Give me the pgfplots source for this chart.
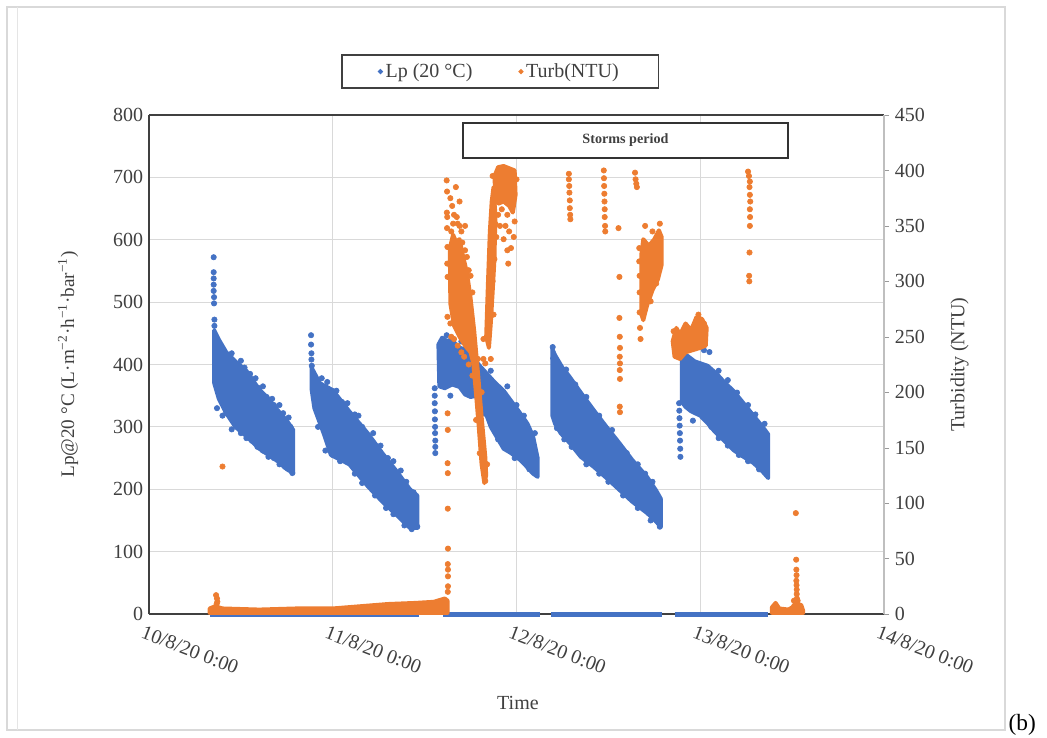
\documentclass[border=0pt]{standalone}
\usepackage{fontspec}
\setmainfont{Liberation Serif}
\usepackage{pgfplots}
\pgfplotsset{compat=1.18}
\definecolor{lpblue}{RGB}{68,114,196}
\definecolor{turb}{RGB}{237,125,49}
\definecolor{gridc}{RGB}{217,217,217}
\definecolor{txt}{RGB}{64,64,64}
\pgfplotsset{
  band/.style={line width=2.4pt, line join=round, forget plot},
  pts/.style={only marks, mark=*, mark size=1.6pt, forget plot},
}
\begin{document}
\begin{tikzpicture}
\path[use as bounding box] (0pt,0pt) rectangle (628.2pt,-442.2pt);
\draw[black!15, line width=0.9pt] (4.2pt,-4.2pt) rectangle (603pt,-438pt);
\draw[black!10, line width=0.6pt] (10.2pt,-4.2pt) -- (10.2pt,-438pt);
\node[anchor=base west, inner sep=0pt, font=\fontsize{14}{16}\selectfont] at (605pt,-438.5pt) {(b)};

\begin{axis}[
  at={(89.4pt,-368.4pt)}, anchor=south west,
  scale only axis, width=441pt, height=299.4pt,
  xmin=0, xmax=4, ymin=0, ymax=800,
  xtick={0,1,2,3,4},
  xticklabels={10/8/20 0:00,11/8/20 0:00,12/8/20 0:00,13/8/20 0:00,14/8/20 0:00},
  ytick={0,100,...,800},
  grid=major, major grid style={gridc, line width=0.6pt},
  axis x line*=box, axis y line*=left,
  axis line style={-, black!75, line width=0.7pt},
  tick style={draw=none},
  clip=false,
  /pgf/number format/assume math mode=true,
  ticklabel style={font=\fontsize{12}{14}\selectfont, text=txt},
  x tick label style={rotate=-21, anchor=north west, inner sep=0pt, yshift=-7pt},
  xlabel={Time},
  xlabel style={at={(axis description cs:0.502,-0.178)}, anchor=center, font=\fontsize{12}{14}\selectfont, text=txt},
  ylabel={Lp@20 °C (L·m\textsuperscript{−2}·h\textsuperscript{−1}·bar\textsuperscript{−1})},
  ylabel style={at={(axis description cs:-0.110,0.5)}, anchor=center, font=\fontsize{11.5}{14}\selectfont, text=txt},
]
% ---- Lp at zero
\addplot[lpblue, line width=3pt, forget plot] coordinates {(0.33,0) (1.47,0)};
\addplot[lpblue, line width=3pt, forget plot] coordinates {(1.60,0) (2.13,0)};
\addplot[lpblue, line width=3pt, forget plot] coordinates {(2.19,0) (2.79,0)};
\addplot[lpblue, line width=3pt, forget plot] coordinates {(2.86,0) (3.37,0)};
% ---- cluster 1
\addplot[band, draw=lpblue, fill=lpblue] coordinates {
(0.355,455) (0.38,440) (0.42,420) (0.47,405) (0.53,390) (0.60,360) (0.65,345) (0.70,327) (0.75,310) (0.785,295)
(0.785,226) (0.75,232) (0.70,245) (0.60,265) (0.53,285) (0.47,300) (0.42,322) (0.38,345) (0.355,370)} -- cycle;
\addplot[pts, lpblue] coordinates {
(0.352,572) (0.352,548) (0.352,538) (0.352,528) (0.352,518) (0.354,508) (0.354,498) (0.356,472) (0.356,462)
(0.40,425) (0.43,412) (0.45,418) (0.48,400) (0.50,406) (0.52,395) (0.55,385) (0.56,375) (0.58,378) (0.60,362) (0.62,365) (0.64,348) (0.67,345) (0.71,335) (0.73,322) (0.76,315)
(0.37,330) (0.40,318) (0.45,296) (0.48,300) (0.50,290) (0.53,282) (0.56,278) (0.59,268) (0.62,262) (0.65,252) (0.68,250) (0.71,240) (0.74,236) (0.78,226) (0.77,300) (0.72,320) (0.68,335) (0.42,322)};
% ---- cluster 2
\addplot[band, draw=lpblue, fill=lpblue] coordinates {
(0.885,395) (0.93,370) (1.0,359) (1.09,325) (1.19,290) (1.27,258) (1.35,228) (1.42,200) (1.46,190)
(1.46,138) (1.42,138) (1.35,158) (1.27,180) (1.19,205) (1.09,240) (0.99,255) (0.95,290) (0.90,330) (0.885,360)} -- cycle;
\addplot[pts, lpblue] coordinates {
(0.882,447) (0.882,432) (0.884,418) (0.884,408) (0.886,398)
(0.94,378) (0.97,372) (1.02,358) (1.00,255) (1.05,340) (1.08,338) (1.12,320) (1.14,318) (1.16,300) (1.22,290) (1.26,270) (1.30,250) (1.33,245) (1.37,230) (1.40,212) (1.44,195)
(1.46,140) (1.43,136) (1.39,142) (1.33,160) (1.29,170) (1.23,190) (1.16,210) (1.12,225) (1.04,245) (0.96,262) (0.92,300)};
% ---- cluster 3 (storm)
\addplot[pts, lpblue] coordinates {
(1.555,362) (1.555,350) (1.555,338) (1.556,325) (1.556,312) (1.557,300) (1.557,290) (1.558,278) (1.558,268) (1.558,258)
(1.62,447) (1.70,437) (1.64,350) (1.95,365) (2.00,335) (2.10,290) (1.90,280) (1.86,390) (2.04,318) (2.07,232) (1.99,250) (1.82,322)};
\addplot[band, draw=lpblue, fill=lpblue] coordinates {
(1.575,432) (1.595,443) (1.62,438) (1.65,440) (1.68,428) (1.71,425) (1.74,418) (1.775,412)
(1.785,350) (1.75,348) (1.72,352) (1.69,364) (1.65,368) (1.61,362) (1.58,365)} -- cycle;
\addplot[band, draw=lpblue, fill=lpblue] coordinates {
(1.78,405) (1.80,398) (1.84,385) (1.88,372) (1.93,358) (1.98,338) (2.02,322) (2.06,305) (2.09,285) (2.115,250)
(2.115,220) (2.09,225) (2.05,238) (2.02,247) (1.97,258) (1.93,265) (1.89,285) (1.86,300) (1.84,316) (1.80,335) (1.785,345)} -- cycle;
% ---- cluster 4
\addplot[band, draw=lpblue, fill=lpblue] coordinates {
(2.195,425) (2.21,415) (2.25,395) (2.29,380) (2.35,355) (2.42,327) (2.49,300) (2.56,274) (2.63,247) (2.71,220) (2.76,198) (2.785,185)
(2.785,140) (2.76,148) (2.71,162) (2.63,180) (2.56,199) (2.49,218) (2.42,236) (2.35,252) (2.29,274) (2.24,290) (2.21,305) (2.195,318)} -- cycle;
\addplot[pts, lpblue] coordinates {
(2.197,428) (2.20,410) (2.27,392) (2.32,368) (2.38,348) (2.45,318) (2.52,295) (2.60,258) (2.66,240) (2.70,225) (2.74,212)
(2.78,140) (2.73,150) (2.66,170) (2.58,190) (2.50,212) (2.45,225) (2.38,240) (2.30,268) (2.26,280) (2.22,298)};
% ---- cluster 5
\addplot[pts, lpblue] coordinates {
(2.885,338) (2.886,326) (2.887,314) (2.888,302) (2.889,290) (2.890,278) (2.891,265) (2.892,252)
(3.02,423) (3.05,420) (3.10,390) (3.15,375) (3.20,355) (3.26,335) (3.30,320) (3.35,305)
(3.36,230) (3.32,232) (3.26,245) (3.21,255) (3.15,270) (3.10,282) (3.06,300) (2.96,310)};
\addplot[band, draw=lpblue, fill=lpblue] coordinates {
(2.90,410) (2.93,414) (2.97,405) (3.00,402) (3.04,398) (3.09,385) (3.13,372) (3.18,358) (3.23,340) (3.29,318) (3.34,300) (3.37,288)
(3.37,218) (3.34,228) (3.29,242) (3.23,253) (3.18,263) (3.13,278) (3.08,292) (3.04,306) (3.00,318) (2.95,325) (2.92,332) (2.90,340)} -- cycle;
\end{axis}

\begin{axis}[
  at={(89.4pt,-368.4pt)}, anchor=south west,
  scale only axis, width=441pt, height=299.4pt,
  xmin=0, xmax=4, ymin=0, ymax=450,
  axis x line=none, axis y line*=right,
  axis line style={-, black!25, line width=0.7pt},
  ytick={0,50,...,450},
  tick align=outside, major tick length=3pt, tick style={black!40},
  clip=false,
  /pgf/number format/assume math mode=true,
  ticklabel style={font=\fontsize{12}{14}\selectfont, text=txt},
  ylabel={Turbidity (NTU)},
  ylabel style={at={(axis description cs:1.103,0.5)}, anchor=center, font=\fontsize{12}{14}\selectfont, text=txt},
  legend style={at={(axis description cs:0.478,1.087)}, anchor=center, draw=black!75, line width=0.8pt,
    legend columns=2, font=\fontsize{12}{14}\selectfont, text=txt, inner xsep=22pt, inner ysep=3pt,
    /tikz/every even column/.append style={column sep=26pt}},
  legend image code/.code={\draw[#1] plot coordinates {(0.12cm,0cm)};},
]
\addlegendimage{only marks, mark=*, mark size=1.1pt, lpblue}
\addlegendentry{Lp (20 °C)}
\addlegendimage{only marks, mark=*, mark size=1.1pt, turb}
\addlegendentry{Turb(NTU)}
% ---- baseline turbidity
\addplot[band, draw=turb, fill=turb] coordinates {
(0.33,5) (0.36,7) (0.40,5) (0.6,4) (0.8,5) (1.0,5) (1.15,7) (1.3,9) (1.45,10) (1.55,11) (1.61,14) (1.625,12)
(1.625,1) (0.33,1)} -- cycle;
\addplot[pts, turb] coordinates {(0.365,17) (0.37,14) (0.372,11) (0.368,9) (0.40,133)};
% ---- storm: first column and cloud
\addplot[pts, turb] coordinates {
(1.620,391) (1.622,381) (1.621,362) (1.623,358) (1.622,348) (1.624,331) (1.623,316) (1.625,304) (1.624,268)
(1.625,181) (1.626,166) (1.625,136) (1.626,127) (1.626,95) (1.627,59) (1.626,45) (1.627,40) (1.627,34) (1.627,25) (1.626,20)
(1.64,375) (1.65,368) (1.66,360) (1.68,352) (1.70,345) (1.72,328) (1.74,310) (1.76,290) (1.66,248) (1.70,236) (1.74,225)
(1.78,175) (1.80,145) (1.83,120) (1.84,135) (1.81,200) (1.79,230) (1.67,385) (1.69,372) (1.72,350) (1.64,262) (1.75,305)
(1.645,345) (1.655,352) (1.675,358) (1.69,350) (1.705,335) (1.73,322) (1.645,250) (1.68,242) (1.715,232) (1.76,215)};
\addplot[band, draw=turb, fill=turb] coordinates {
(1.637,330) (1.655,342) (1.67,336) (1.69,338) (1.71,322) (1.73,308) (1.75,285) (1.77,255) (1.79,218) (1.81,178) (1.83,142) (1.835,125)
(1.825,118) (1.81,135) (1.795,168) (1.78,198) (1.765,226) (1.75,236) (1.72,242) (1.69,250) (1.66,260) (1.64,280)} -- cycle;
% ---- rising cloud
\addplot[band, draw=turb, fill=turb] coordinates {
(1.835,250) (1.845,300) (1.855,345) (1.865,372) (1.875,385) (1.885,360) (1.88,320) (1.87,290) (1.86,262) (1.85,240)} -- cycle;
\addplot[band, draw=turb, fill=turb] coordinates {
(1.88,395) (1.90,403) (1.93,404) (1.96,402) (1.99,400) (1.995,378) (1.98,362) (1.96,368) (1.93,372) (1.90,370) (1.885,375)} -- cycle;
\addplot[pts, turb] coordinates {
(1.82,248) (1.82,230) (1.83,226) (1.88,320) (1.89,340) (1.90,360) (1.92,365) (1.95,360) (1.96,345) (1.97,330) (1.955,316)
(1.99,354) (1.98,368) (2.00,392) (1.87,395) (1.885,352) (1.86,230) (1.94,350) (1.91,350) (1.93,338) (1.95,328) (1.985,340)
(1.92,380) (1.89,382) (1.87,300) (1.875,270) (1.845,262) (1.86,320)};
% ---- scattered columns
\addplot[pts, turb] coordinates {
(2.285,397) (2.285,392) (2.287,386) (2.288,380) (2.29,373) (2.29,366) (2.292,360) (2.293,356)
(2.475,400) (2.476,393) (2.477,386) (2.478,379) (2.479,372) (2.48,365) (2.48,358) (2.482,350) (2.483,345)
(2.555,348) (2.56,304) (2.56,267) (2.562,250) (2.563,240) (2.562,232) (2.563,226) (2.562,220) (2.563,212) (2.562,187) (2.563,182)
(2.645,398) (2.648,392) (2.652,388) (2.655,385)
(2.668,330) (2.668,318) (2.67,305) (2.67,290) (2.67,272) (2.672,258) (2.675,248)
(2.70,350) (2.74,345) (2.78,352) (2.76,298) (2.73,282)
(2.855,255) (2.99,270) (3.02,262)
(3.26,399) (3.265,395) (3.27,390) (3.268,385) (3.27,378) (3.272,372) (3.27,365) (3.271,358) (3.27,350) (3.268,326) (3.266,305) (3.267,300)};
\addplot[band, draw=turb, fill=turb] coordinates {
(2.68,325) (2.69,338) (2.72,332) (2.75,338) (2.775,346) (2.79,340)
(2.79,315) (2.77,302) (2.74,292) (2.71,278) (2.69,265) (2.68,270)} -- cycle;
\addplot[band, draw=turb, fill=turb] coordinates {
(2.85,246) (2.87,258) (2.89,252) (2.92,262) (2.95,256) (2.98,268) (3.01,266) (3.035,258)
(3.03,242) (3.00,240) (2.96,238) (2.92,236) (2.89,230) (2.86,232)} -- cycle;
% ---- final spike
\addplot[band, draw=turb, fill=turb] coordinates {
(3.39,1) (3.39,6) (3.41,10) (3.43,5) (3.48,4) (3.50,6) (3.52,10) (3.55,8) (3.56,3) (3.56,1)} -- cycle;
\addplot[pts, turb] coordinates {
(3.52,91) (3.522,49) (3.523,40) (3.524,35) (3.523,30) (3.524,26) (3.525,22) (3.525,18) (3.526,14) (3.51,12) (3.53,12)};
\end{axis}

\node[draw=black!80, line width=0.8pt, fill=white, minimum width=195pt, minimum height=21pt, inner sep=0pt,
  font=\bfseries\fontsize{8.5}{10}\selectfont, text=txt] at (375.3pt,-84.3pt) {Storms period};
\end{tikzpicture}
\end{document}
